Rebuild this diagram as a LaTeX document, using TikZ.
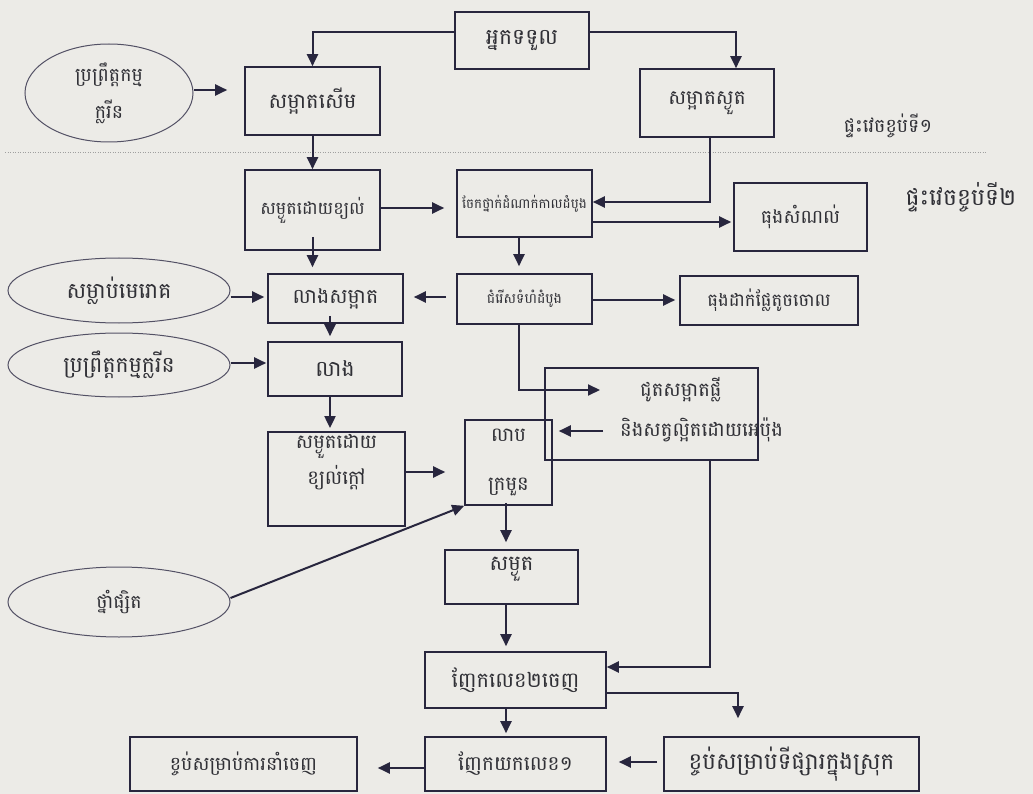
\documentclass[tikz,border=0pt]{standalone}
\usepackage{fontspec}
\newfontfamily\khmer[Script=Khmer]{Battambang}
\usetikzlibrary{arrows.meta,shapes.geometric}
\definecolor{paper}{RGB}{236,235,231}
\definecolor{ink}{RGB}{40,38,62}
\definecolor{txt}{RGB}{48,48,54}
\newcommand\kh[1]{\khmer\fontsize{#1}{#1}\selectfont}
\tikzset{
  stage/.style={draw=ink,line width=1.6pt,inner sep=2pt,align=center,text=txt,font=\kh{20}},
  oval/.style={ellipse,draw=ink!80,line width=1pt,inner sep=0pt,align=center,text=txt,font=\kh{20}},
  words/.style={inner sep=0pt,text=txt,font=\kh{19.5}},
  flow/.style={-{Triangle[width=11pt,length=12pt]},color=ink,line width=2pt},
}
\begin{document}
\begin{tikzpicture}[x=1pt,y=-1pt]
 \fill[paper] (0,0) rectangle (1033,794);
 \useasboundingbox (0,0) rectangle (1033,794);
 % packing house 1
 \node (recv) [stage,font=\kh{22},minimum width=134pt,minimum height=57pt] at (522,40.5) {អ្នកទទួល};
 \node (ell1) [oval,font=\kh{19},minimum width=168pt,minimum height=98pt] at (109,93) {ប្រព្រឹត្តកម្ម\\[12pt]ក្លរីន};
 \node (wet) [stage,font=\kh{21},minimum width=135pt,minimum height=68pt] at (312.5,101) {សម្អាតសើម};
 \node (dry) [stage,minimum width=134pt,minimum height=68pt] at (707,103) {សម្អាតស្ងួត};
 \node (house1) [words,font=\kh{19}] at (888,126) {ផ្ទះវេចខ្ចប់ទី១};
 \draw[gray!75,line width=0.8pt,dash pattern=on 1pt off 1.5pt] (5,152) -- (987,152);
 % packing house 2
 \node (airdry) [stage,font=\kh{17.5},minimum width=135pt,minimum height=80pt] at (312.5,210) {សម្ងួតដោយខ្យល់};
 \node (sort) [stage,font=\kh{13.5},minimum width=135pt,minimum height=67pt] at (524.5,203.5) {ចែកថ្នាក់ដំណាក់កាលដំបូង};
 \node (waste) [stage,font=\kh{19},minimum width=133pt,minimum height=68pt] at (800.5,217) {ធុងសំណល់};
 \node (house2) [words,font=\kh{23.5}] at (961,197) {ផ្ទះវេចខ្ចប់ទី២};
 \node (ell2) [oval,font=\kh{22},minimum width=222pt,minimum height=65pt] at (119,290.5) {សម្លាប់មេរោគ};
 \node (wash1) [stage,font=\kh{20.5},minimum width=135pt,minimum height=49pt] at (335.5,298.5) {លាងសម្អាត};
 \node (size) [stage,font=\kh{14},minimum width=135pt,minimum height=50pt] at (524.5,299) {ជំរើសទំហំដំបូង};
 \node (sizebin) [stage,font=\kh{18},minimum width=178pt,minimum height=49pt] at (769,300.5) {ធុងដាក់ផ្លែតូចចោល};
 \node (ell3) [oval,font=\kh{22},minimum width=222pt,minimum height=64pt] at (119,365) {ប្រព្រឹត្តកម្មក្លរីន};
 \node (wash2) [stage,font=\kh{22},minimum width=134pt,minimum height=54pt] at (335,369) {លាង};
 \node (sponge) [stage,minimum width=213pt,minimum height=92pt] at (651.5,414) {};
 \node (sp1) [words,anchor=west] at (640,390) {ជូតសម្អាតផ្លី};
 \node (sp2) [words,anchor=west] at (620,430) {និងសត្វល្អិតដោយអេប៉ុង};
 \node (hotair) [stage,font=\kh{19.5},text depth=40pt,minimum width=137pt,minimum height=92pt] at (336.5,479) {សម្ងួតដោយ\\[6pt]ខ្យល់ក្តៅ};
 \node (wax) [stage,font=\kh{19.5},minimum width=87pt,minimum height=85pt] at (508.5,462.5) {លាប\\[30pt]ក្រមួន};
 \node (ell4) [oval,font=\kh{19},minimum width=222pt,minimum height=70pt] at (119,602) {ថ្នាំផ្សិត};
 \node (dry2) [stage,font=\kh{21},text depth=27pt,minimum width=133pt,minimum height=54pt] at (511.5,577) {សម្ងួត};
 \node (sort2) [stage,font=\kh{21},minimum width=181pt,minimum height=56pt] at (515.5,680) {ញែកលេខ២ចេញ};
 \node (grade1) [stage,minimum width=181pt,minimum height=54pt] at (515.5,764) {ញែកយកលេខ១};
 \node (local) [stage,font=\kh{23},minimum width=255pt,minimum height=54pt] at (791.5,764) {ខ្ចប់សម្រាប់ទីផ្សារក្នុងស្រុក};
 \node (export) [stage,font=\kh{19},minimum width=227pt,minimum height=54pt] at (243.5,764) {ខ្ចប់សម្រាប់ការនាំចេញ};
 % connectors
 \draw[flow] (recv.west |- 0,32) -| (wet.north);
 \draw[flow] (recv.east |- 0,32) -| (dry.north -| 736,0);
 \draw[flow] (dry.south -| 710,0) |- (sort.east |- 0,202);
 \draw[flow,shorten >=40pt] (size.south -| 519,0) |- (sp1.west);
 \draw[flow] (sponge.south -| 710,0) |- (sort2.east |- 0,667);
 \draw[flow,shorten >=18pt] (sort2.east |- 0,693) -| (local.north -| 738,0);
 \path[flow]
 (ell1.east |- 0,90) edge[shorten >=17pt] (wet.west |- 0,90)
 (wet) edge (airdry)
 (airdry.east |- 0,208) edge[shorten >=12pt] (sort.west |- 0,208)
 (sort.east |- 0,222) edge[shorten >=2pt] (waste.west |- 0,222)
 (sort.south -| 519,0) edge[shorten >=7pt] (size.north -| 519,0)
 (airdry.south) edge[shorten <=-14pt,shorten >=6pt] (airdry.south |- wash1.north)
 (ell2.east |- 0,297) edge[shorten >=3pt] (wash1.west |- 0,297)
 (size.west |- 0,297) edge[shorten <=10pt,shorten >=10pt] (wash1.east |- 0,297)
 (size.east |- 0,300) edge[shorten >=4pt] (sizebin.west |- 0,300)
 (wash1.south -| 330,0) edge[shorten <=-8pt,shorten >=5pt] (wash2.north -| 330,0)
 (ell3.east |- 0,363) edge[shorten >=1pt] (wash2.west |- 0,363)
 (wash2.south -| 330,0) edge[shorten >=3pt] (hotair.north -| 330,0)
 (hotair.east |- 0,472) edge[shorten >=19pt] (wax.west |- 0,472)
 (ell4.east |- 0,598) edge (wax.south west)
 (sp2.west |- 0,431) edge[shorten <=17pt,shorten >=6pt] (wax.east |- 0,431)
 (wax.south -| 506,0) edge[shorten <=-3pt,shorten >=7pt] (dry2.north -| 506,0)
 (dry2.south -| 506,0) edge[shorten >=5pt] (sort2.north -| 506,0)
 (sort2.south -| 506,0) edge[shorten >=3pt] (grade1.north -| 506,0)
 (local.west |- 0,762) edge[shorten <=6pt,shorten >=12pt] (grade1.east |- 0,762)
 (grade1.west |- 0,768) edge[shorten >=20pt] (export.east |- 0,768);
\end{tikzpicture}
\end{document}
